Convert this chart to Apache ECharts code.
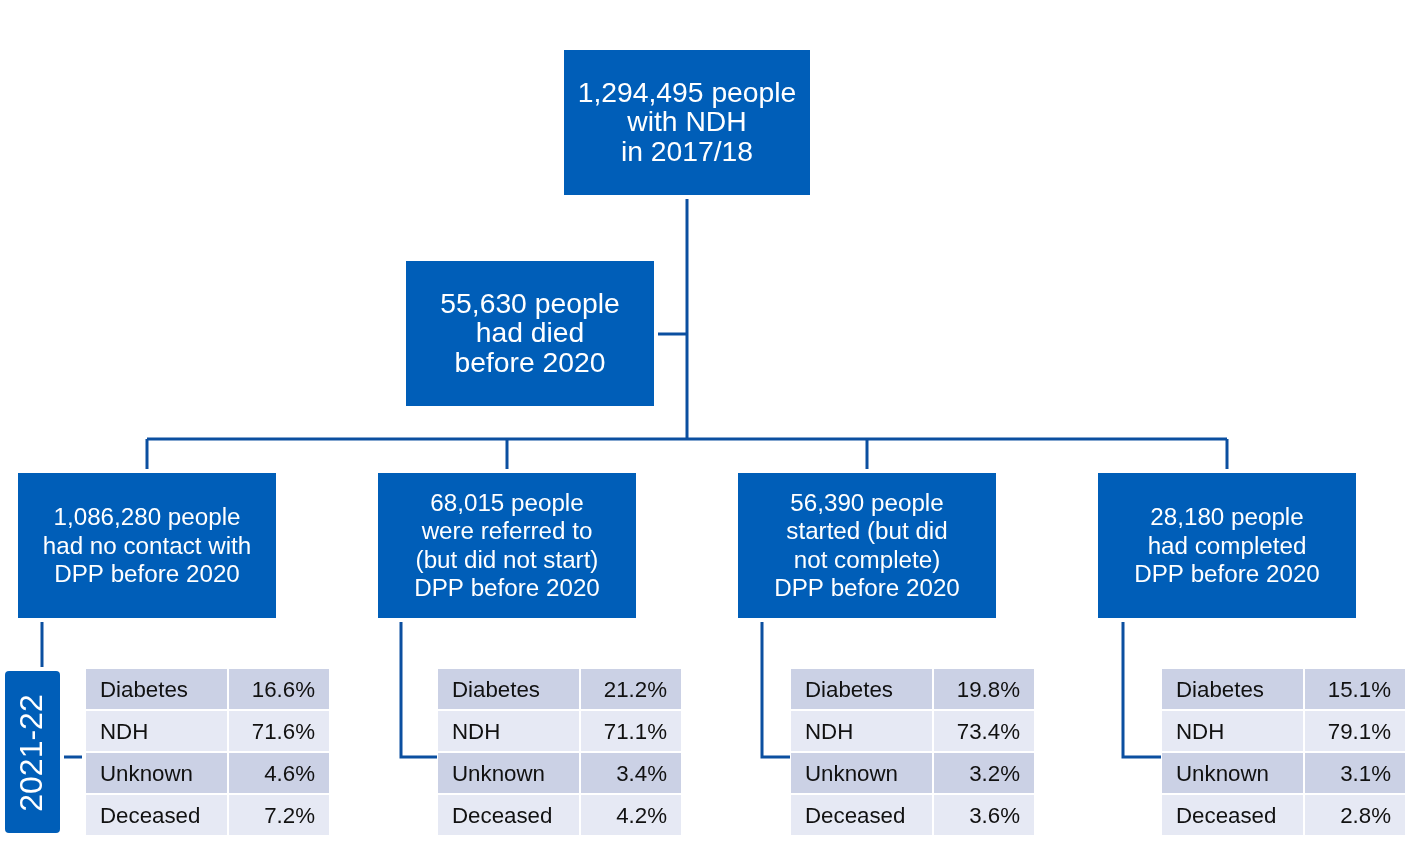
<!DOCTYPE html>
<html>
<head>
<meta charset="utf-8">
<script src="https://cdn.jsdelivr.net/npm/echarts@6/dist/echarts.min.js"></script>
<style>html,body{margin:0;padding:0;background:#fff}#c{width:1420px;height:857px}</style>
</head>
<body>
<div id="c"></div>
<script>
// ---- data ----
const rootText = ['1,294,495 people', 'with NDH', 'in 2017/18'];
const diedText = ['55,630 people', 'had died', 'before 2020'];
const groupTexts = [
  ['1,086,280 people', 'had no contact with', 'DPP before 2020'],
  ['68,015 people', 'were referred to', '(but did not start)', 'DPP before 2020'],
  ['56,390 people', 'started (but did', 'not complete)', 'DPP before 2020'],
  ['28,180 people', 'had completed', 'DPP before 2020']
];
const outcomeCategories = ['Diabetes', 'NDH', 'Unknown', 'Deceased'];
const noContactValues = [16.6, 71.6, 4.6, 7.2];
const referredValues = [21.2, 71.1, 3.4, 4.2];
const startedValues = [19.8, 73.4, 3.2, 3.6];
const completedValues = [15.1, 79.1, 3.1, 2.8];
const periodLabel = '2021-22';

// ---- layout & style ----
const BOX = '#005EB8', LINE = '#0B4FA0', ROW_A = '#CBD1E5', ROW_B = '#E6E9F4';
const FONT = '"Liberation Sans", Arial, sans-serif';
const groupValues = [noContactValues, referredValues, startedValues, completedValues];
const g = [];

function box(x, y, w, h, lines, size, lh, dy) {
  g.push({ type: 'rect', shape: { x, y, width: w, height: h }, style: { fill: BOX } });
  g.push({ type: 'text', x: x + w / 2, y: y + h / 2 + dy,
    style: { text: lines.join('\n'), fill: '#fff', font: size + 'px ' + FONT, lineHeight: lh,
      align: 'center', verticalAlign: 'middle' } });
}
function line(points) {
  g.push({ type: 'polyline', shape: { points }, style: { stroke: LINE, lineWidth: 3, fill: null } });
}

// root & died
box(564, 50, 246, 145, rootText, 28.3, 29.5, 1);
box(406, 261, 248, 145, diedText, 28.3, 29.5, 1);
line([[687, 199], [687, 439]]);
line([[658, 334], [687, 334]]);

// horizontal distributor
const centers = [147, 507, 867, 1227];
line([[centers[0], 439], [centers[3], 439]]);
const boxW = 258, boxTop = 473, boxH = 145;
const tableX = [86, 438, 791, 1162];
const lineX = [42, 401, 762, 1123];
const rowTop = 669, rowH = 40, rowGap = 2, labW = 141, valW = 100;

groupTexts.forEach((t, i) => {
  line([[centers[i], 439], [centers[i], 469]]);
  box(centers[i] - boxW / 2, boxTop, boxW, boxH, t, 24.2, 28.5, 1.5);
  if (i === 0) {
    line([[lineX[i], 622], [lineX[i], 667]]);
    line([[64, 757], [82, 757]]);
  } else {
    line([[lineX[i], 622], [lineX[i], 757], [tableX[i] - 1, 757]]);
  }
  // table
  outcomeCategories.forEach((cat, r) => {
    const y = rowTop + r * (rowH + rowGap);
    const fill = r % 2 === 0 ? ROW_A : ROW_B;
    g.push({ type: 'rect', shape: { x: tableX[i], y, width: labW, height: rowH }, style: { fill } });
    g.push({ type: 'rect', shape: { x: tableX[i] + labW + rowGap, y, width: valW, height: rowH }, style: { fill } });
    g.push({ type: 'text', x: tableX[i] + 14, y: y + rowH / 2 + 1.5,
      style: { text: cat, fill: '#111', font: '22.3px ' + FONT, align: 'left', verticalAlign: 'middle' } });
    g.push({ type: 'text', x: tableX[i] + labW + rowGap + valW - 14, y: y + rowH / 2 + 1.5,
      style: { text: groupValues[i][r].toFixed(1) + '%', fill: '#111', font: '22.3px ' + FONT, align: 'right', verticalAlign: 'middle' } });
  });
});

// period label
g.push({ type: 'rect', shape: { x: 5, y: 671, width: 55, height: 162, r: 4 }, style: { fill: BOX } });
g.push({ type: 'text', x: 33, y: 753, rotation: Math.PI / 2,
  style: { text: periodLabel, fill: '#fff', font: '32px ' + FONT, align: 'center', verticalAlign: 'middle' } });

const chart = echarts.init(document.getElementById('c'), null, { renderer: 'canvas' });
chart.setOption({ animation: false, graphic: { elements: g } });
</script>
</body>
</html>
